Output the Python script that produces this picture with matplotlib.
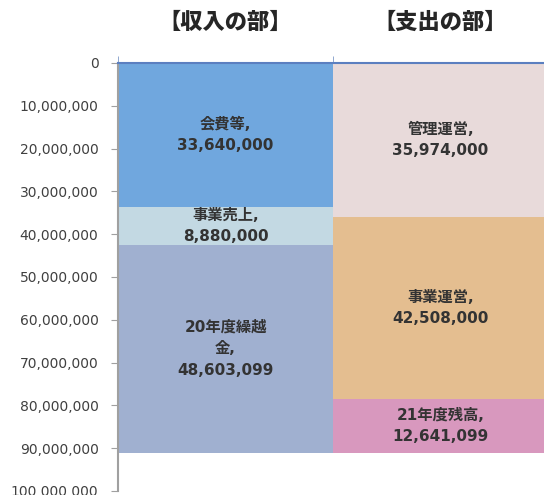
import numpy as np
import matplotlib.pyplot as plt
from matplotlib.ticker import FuncFormatter

# data
categories = ["【収入の部】", "【支出の部】"]
income_labels = ["会費等", "事業売上", "20年度繰越\n金"]
income_values = [33640000, 8880000, 48603099]
income_colors = ["#70A7DE", "#C3D9E3", "#A0B0D0"]
expense_labels = ["管理運営", "事業運営", "21年度残高"]
expense_values = [35974000, 42508000, 12641099]
expense_colors = ["#E8DADA", "#E4BE90", "#D898BE"]
yticks = np.arange(0, 100000001, 10000000)

fig = plt.figure(figsize=(5.44, 4.95), dpi=100)
ax = fig.add_axes([118/544, 4/495, 430/544, 428/495])

label_font = ["DejaVu Sans", "Noto Sans CJK JP"]

for x, labels, values, colors in [(0, income_labels, income_values, income_colors),
                                  (1, expense_labels, expense_values, expense_colors)]:
    bottom = 0
    for lab, v, c in zip(labels, values, colors):
        ax.bar(x, v, bottom=bottom, width=1.0, color=c, edgecolor="none")
        ax.text(x, bottom + v/2, f"{lab},\n{v:,}", ha="center", va="center",
                fontsize=11, fontweight="bold", color="#333333",
                family=label_font, linespacing=1.55)
        bottom += v

ax.set_ylim(100000000, 0)
ax.set_xlim(-0.5, 1.5)
ax.set_yticks(yticks)
ax.yaxis.set_major_formatter(FuncFormatter(lambda v, p: f"{int(v):,}"))
ax.tick_params(axis="y", length=5, color="#A0A0A0", labelsize=10,
               labelcolor="#404040", pad=9)

ax.xaxis.tick_top()
ax.set_xticks([0, 1])
ax.set_xticklabels(categories, family=["Noto Sans CJK JP"], fontweight="heavy",
                   fontsize=16, color="#262626")
ax.set_xticks([-0.5, 0.5, 1.5], minor=True)
ax.tick_params(axis="x", which="major", length=0, pad=21)
ax.tick_params(axis="x", which="minor", length=5, color="#7F9AC8", top=True)

ax.spines["bottom"].set_visible(False)
ax.spines["right"].set_visible(False)
ax.spines["left"].set_color("#A0A0A0")
ax.spines["left"].set_linewidth(1.5)
ax.spines["top"].set_color("#5B7FC0")
ax.spines["top"].set_linewidth(1.5)
ax.spines["top"].set_zorder(3)

fig.savefig("out.png", dpi=100)
